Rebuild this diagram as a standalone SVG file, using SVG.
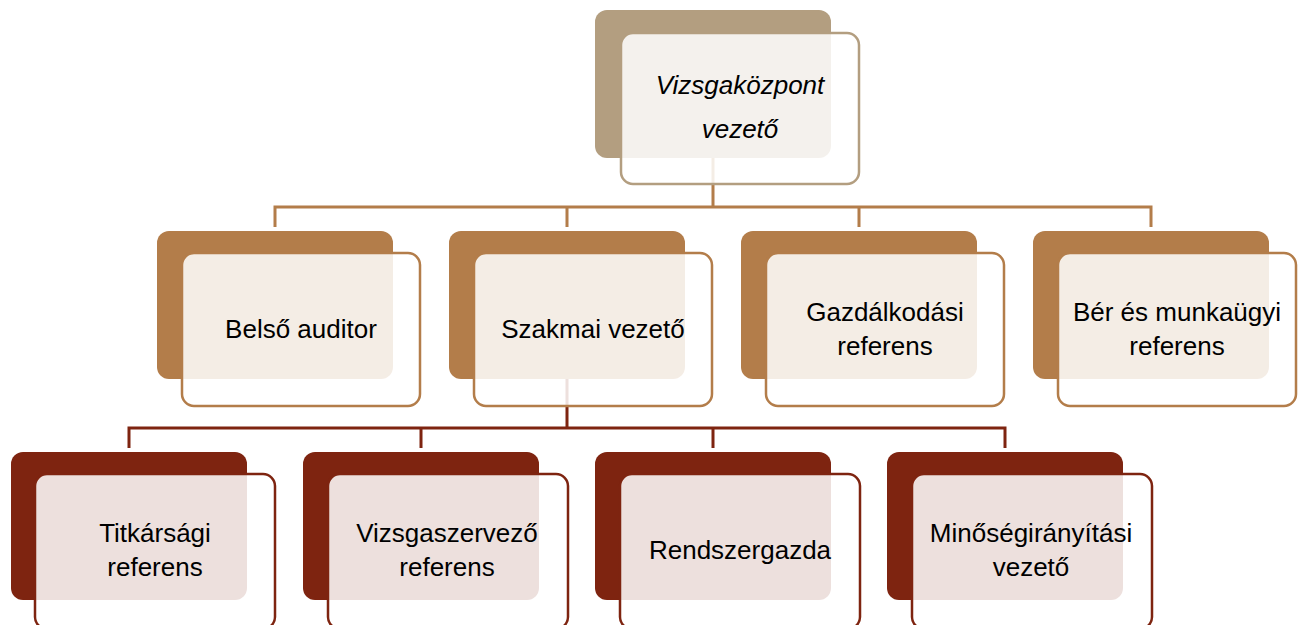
<svg xmlns="http://www.w3.org/2000/svg" width="1303" height="625" viewBox="0 0 1303 625">
<style>
.t{font-family:"Liberation Sans",Arial,sans-serif;font-size:26px;fill:#000;text-anchor:middle}
.it{font-style:italic}
.b0{fill:#B39E80}.b1{fill:#B37D4A}.b2{fill:#7E2410}
.f{fill:#fff;fill-opacity:0.86;stroke-width:2.5}
.f0{stroke:#B39E80}.f1{stroke:#B37D4A}.f2{stroke:#7E2410}
.c1{stroke:#B37D4A;stroke-width:3;fill:none}
.c2{stroke:#7E2410;stroke-width:3;fill:none}
</style>
<rect width="1303" height="625" fill="#fff"/>
<g id="connectors">
<path class="c1" d="M713 158V207M275 227V207H1151V227M567 207V227M859 207V227"/>
<path class="c2" d="M567 379V428M129 448V428H1005V448M421 428V448M713 428V448"/>
</g>
<g id="n0">
<rect class="b0" x="595" y="10" width="236" height="148" rx="12"/>
<rect class="f f0" x="621" y="33" width="238" height="151" rx="12"/>
<text class="t it" x="740" y="94">Vizsgaközpont</text>
<text class="t it" x="740" y="138">vezető</text>
</g>
<g id="n1">
<rect class="b1" x="157" y="231" width="236" height="148" rx="12"/>
<rect class="f f1" x="182" y="253" width="238" height="153" rx="12"/>
<text class="t" x="301" y="338">Belső auditor</text>
</g>
<g id="n2">
<rect class="b1" x="449" y="231" width="236" height="148" rx="12"/>
<rect class="f f1" x="474" y="253" width="238" height="153" rx="12"/>
<text class="t" x="593" y="338">Szakmai vezető</text>
</g>
<g id="n3">
<rect class="b1" x="741" y="231" width="236" height="148" rx="12"/>
<rect class="f f1" x="766" y="253" width="238" height="153" rx="12"/>
<text class="t" x="885" y="321">Gazdálkodási</text>
<text class="t" x="885" y="355">referens</text>
</g>
<g id="n4">
<rect class="b1" x="1033" y="231" width="236" height="148" rx="12"/>
<rect class="f f1" x="1058" y="253" width="238" height="153" rx="12"/>
<text class="t" x="1177" y="321">Bér és munkaügyi</text>
<text class="t" x="1177" y="355">referens</text>
</g>
<g id="n5">
<rect class="b2" x="11" y="452" width="236" height="148" rx="12"/>
<rect class="f f2" x="35" y="474" width="240" height="155" rx="12"/>
<text class="t" x="155" y="542">Titkársági</text>
<text class="t" x="155" y="576">referens</text>
</g>
<g id="n6">
<rect class="b2" x="303" y="452" width="236" height="148" rx="12"/>
<rect class="f f2" x="328" y="474" width="240" height="155" rx="12"/>
<text class="t" x="447" y="542">Vizsgaszervező</text>
<text class="t" x="447" y="576">referens</text>
</g>
<g id="n7">
<rect class="b2" x="595" y="452" width="236" height="148" rx="12"/>
<rect class="f f2" x="620" y="474" width="240" height="155" rx="12"/>
<text class="t" x="740" y="559">Rendszergazda</text>
</g>
<g id="n8">
<rect class="b2" x="887" y="452" width="236" height="148" rx="12"/>
<rect class="f f2" x="912" y="474" width="240" height="155" rx="12"/>
<text class="t" x="1031" y="542">Minőségirányítási</text>
<text class="t" x="1031" y="576">vezető</text>
</g>
</svg>
